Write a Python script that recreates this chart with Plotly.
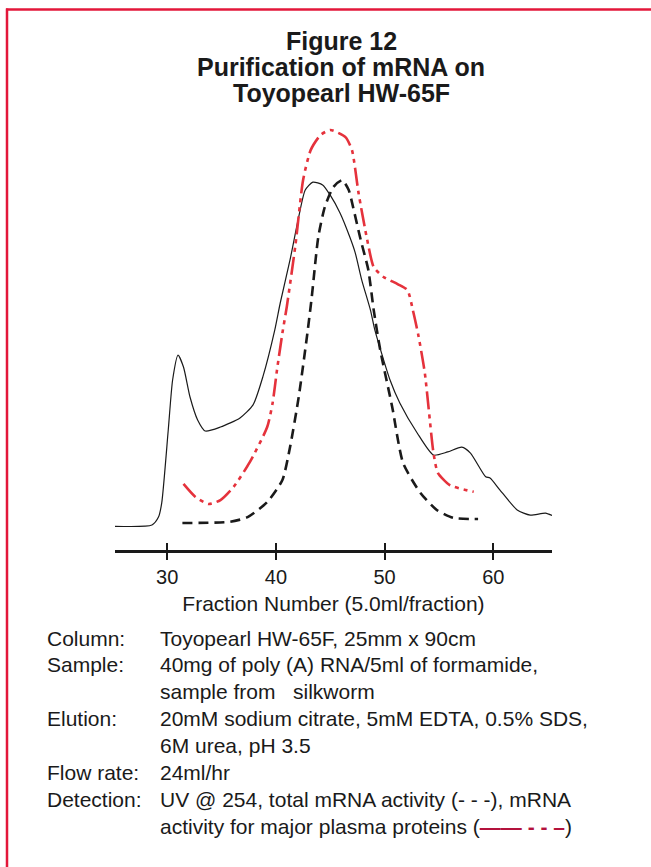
import plotly.graph_objects as go

# ---- data ----
uv_fraction = [24.8, 28.6, 29.2, 29.5, 30.1, 30.5, 31.0, 31.5, 32.1, 32.8, 33.5, 34.9, 36.7, 37.9,
               38.8, 39.9, 40.4, 41.3, 42.1, 42.7, 43.4, 44.3, 45.0, 45.9, 46.8, 47.3, 47.9, 48.7,
               49.1, 50.5, 51.4, 53.0, 54.5, 55.8, 57.1, 57.9, 59.3, 59.7, 60.6, 62.2, 63.4, 64.8, 65.5]
uv_absorbance = [-0.3, 0.0, 2.0, 5.6, 24.1, 36.7, 43.0, 40.0, 32.4, 26.6, 23.8, 24.8, 27.1, 30.4,
                 37.5, 49.4, 56.2, 67.1, 78.0, 84.8, 86.8, 86.1, 83.5, 79.0, 72.9, 68.9, 62.0, 54.4,
                 49.4, 36.7, 30.9, 23.3, 17.7, 18.5, 19.7, 18.2, 12.2, 11.9, 8.9, 3.8, 2.5, 3.0, 2.3]

total_fraction = [31.4, 35.8, 37.4, 39.2, 40.6, 41.3, 42.1, 42.9, 43.3, 43.9, 44.5, 45.3, 46.1,
                  46.7, 47.1, 47.8, 48.5, 49.0, 49.6, 50.7, 51.7, 53.3, 54.8, 56.3, 58.6]
total_activity = [0.5, 0.8, 2.0, 5.8, 11.4, 19.7, 32.4, 48.6, 57.7, 72.9, 80.5, 85.6, 87.3,
                  84.8, 80.5, 72.2, 64.6, 54.4, 44.3, 29.9, 15.7, 8.1, 3.8, 1.8, 1.5]

plasma_fraction = [31.5, 32.6, 33.8, 34.9, 36.1, 37.6, 39.2, 39.7, 40.1, 40.6, 41.0, 41.8, 42.5,
                   43.2, 44.1, 45.0, 46.4, 47.0, 47.6, 48.4, 49.0, 49.9, 51.2, 52.1, 52.6, 53.1,
                   53.7, 54.5, 54.9, 56.0, 58.2]
plasma_activity = [10.4, 7.1, 5.3, 6.3, 9.6, 15.9, 24.8, 30.9, 39.2, 48.6, 55.2, 70.9, 87.3,
                   94.9, 98.7, 100.0, 98.2, 94.9, 84.1, 72.2, 65.3, 62.8, 61.0, 59.5, 54.4, 48.1,
                   38.5, 18.2, 13.2, 10.1, 8.4]

tick_values = [30, 40, 50, 60]
tick_labels = ["30", "40", "50", "60"]

title_lines = ["Figure 12", "Purification of mRNA on", "Toyopearl HW-65F"]
x_title = "Fraction Number (5.0ml/fraction)"

LEGEND_SYMBOL = "<span style='color:#b3123c'><b>——</b> <b>-</b> <b>-</b> <b>–</b></span>"
info_labels = ["Column:", "Sample:", "", "Elution:", "", "Flow rate:", "Detection:", ""]
info_texts = [
    "Toyopearl HW-65F, 25mm x 90cm",
    "40mg of poly (A) RNA/5ml of formamide,",
    "sample from &nbsp; silkworm",
    "20mM sodium citrate, 5mM EDTA, 0.5% SDS,",
    "6M urea, pH 3.5",
    "24ml/hr",
    "UV @ 254, total mRNA activity (- - -), mRNA",
    "activity for major plasma proteins (" + LEGEND_SYMBOL + ")",
]

W, H = 651, 867
FONT = "Liberation Sans, Arial, Helvetica, sans-serif"
RED = "#e5323c"
INK = "#1a1a1a"

fig = go.Figure()
fig.add_trace(go.Scatter(x=uv_fraction, y=uv_absorbance, mode="lines",
                         line=dict(color=INK, width=1.2, shape="spline", smoothing=0.6),
                         showlegend=False, hoverinfo="skip"))
fig.add_trace(go.Scatter(x=total_fraction, y=total_activity, mode="lines",
                         line=dict(color=INK, width=2.6, dash="10px,6px", shape="spline", smoothing=0.6),
                         showlegend=False, hoverinfo="skip"))
fig.add_trace(go.Scatter(x=plasma_fraction, y=plasma_activity, mode="lines",
                         line=dict(color=RED, width=2.6, dash="18px,5px,4px,5px,4px,5px",
                                   shape="spline", smoothing=0.6),
                         showlegend=False, hoverinfo="skip"))
# invisible trace to activate the overlaid tick axis
fig.add_trace(go.Scatter(x=[30], y=[0], xaxis="x2", mode="markers", marker=dict(opacity=0),
                         showlegend=False, hoverinfo="skip"))

x_dom = [115 / W, 552 / W]
y_dom = [(H - 550) / H, (H - 120) / H]
x_rng = [25.2, 65.4]

fig.update_layout(
    width=W, height=H,
    margin=dict(l=0, r=0, t=0, b=0),
    paper_bgcolor="white", plot_bgcolor="white",
    font=dict(family=FONT, color=INK),
    xaxis=dict(domain=x_dom, range=x_rng, showgrid=False, zeroline=False,
               showline=True, linecolor=INK, linewidth=2.5,
               ticks="outside", ticklen=7, tickwidth=2, tickcolor=INK,
               tickvals=tick_values, ticktext=tick_labels,
               tickfont=dict(size=20, family=FONT, color=INK),
               title=dict(text=x_title, font=dict(size=21, family=FONT, color=INK), standoff=10)),
    xaxis2=dict(domain=x_dom, range=x_rng, overlaying="x", anchor="y", side="bottom",
                showgrid=False, zeroline=False, showline=False,
                ticks="inside", ticklen=7, tickwidth=2, tickcolor=INK,
                tickvals=tick_values, showticklabels=False),
    yaxis=dict(domain=y_dom, range=[-6.33, 102.53], visible=False),
)

# red frame (top and left edges visible)
fig.add_shape(type="line", xref="paper", yref="paper", x0=6 / W, x1=1.0, y0=(H - 9.5) / H, y1=(H - 9.5) / H,
              line=dict(color="#e3173a", width=2.5))
fig.add_shape(type="line", xref="paper", yref="paper", x0=7 / W, x1=7 / W, y0=0, y1=(H - 8.5) / H,
              line=dict(color="#e3173a", width=2.5))

# title
for i, t in enumerate(title_lines):
    fig.add_annotation(text="<b>" + t + "</b>", xref="paper", yref="paper",
                       x=341 / W, y=(H - (41 + 26 * i)) / H, showarrow=False,
                       xanchor="center", yanchor="middle",
                       font=dict(size=25, family=FONT, color=INK))

# conditions block
for i, (lab, txt) in enumerate(zip(info_labels, info_texts)):
    yc = (H - (638 + 26.9 * i)) / H
    if lab:
        fig.add_annotation(text=lab, xref="paper", yref="paper", x=45 / W, y=yc,
                           showarrow=False, xanchor="left", yanchor="middle",
                           font=dict(size=21, family=FONT, color=INK))
    fig.add_annotation(text=txt, xref="paper", yref="paper", x=158 / W, y=yc,
                       showarrow=False, xanchor="left", yanchor="middle",
                       font=dict(size=21, family=FONT, color=INK))

fig.write_html("out.html", config={"displayModeBar": False},
               post_script="document.body.style.margin='0';")
